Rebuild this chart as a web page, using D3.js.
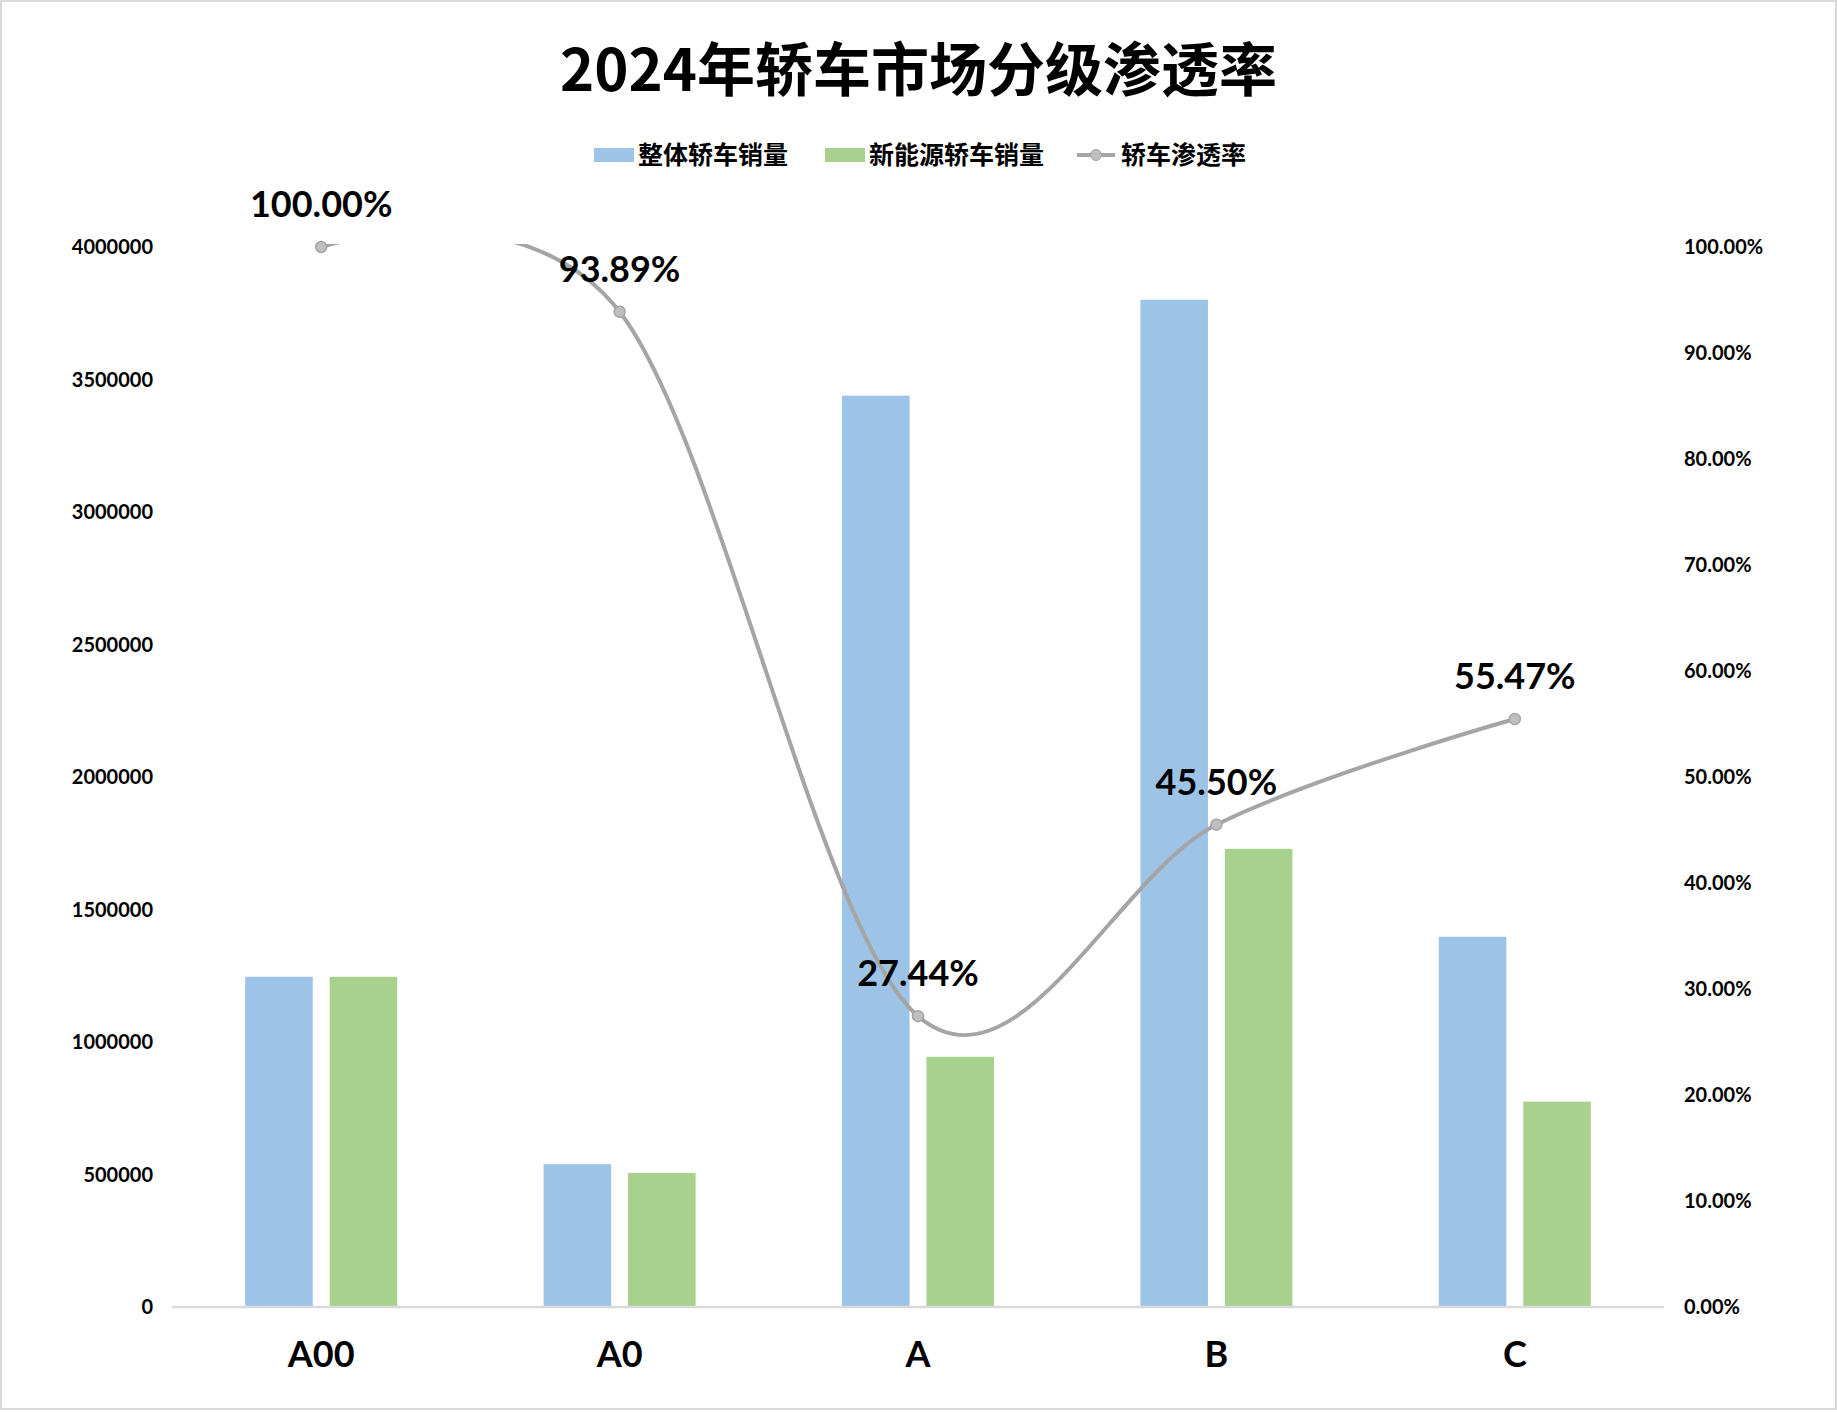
<!DOCTYPE html>
<html>
<head>
<meta charset="utf-8">
<script src="https://cdn.jsdelivr.net/npm/d3@7"></script>
<style>
	body { margin: 0; background: #fff; }
	svg text { font-family: Lato, "Noto Sans CJK SC", sans-serif; font-weight: bold; fill: #000; }
	.cjk { font-family: "Noto Sans CJK SC", sans-serif; }
</style>
</head>
<body>
<div id="chart"></div>
<script>
const categories = ['A00', 'A0', 'A', 'B', 'C'];
const seriesNames = ['整体轿车销量', '新能源轿车销量'];
const totalSales = [1246000, 539000, 3439000, 3801000, 1397000];
const nevSales = [1246000, 506000, 944000, 1729000, 775000];
const penetration = [1.0, 0.9389, 0.2744, 0.4550, 0.5547];
const leftTicks = [0, 500000, 1000000, 1500000, 2000000, 2500000, 3000000, 3500000, 4000000];
const rightTicks = [0, 0.1, 0.2, 0.3, 0.4, 0.5, 0.6, 0.7, 0.8, 0.9, 1.0];

const colours = ['#9DC3E6', '#A9D18E'];
const lineColour = '#A5A5A5';

const W = 1837, H = 1412;
const margin = {top: 247, right: 173, bottom: 105, left: 172};
const width = W - margin.left - margin.right;
const height = H - margin.top - margin.bottom;

const svg = d3.select('#chart').append('svg')
	.attr('width', W)
	.attr('height', H);

// outer frame
svg.append('rect')
	.attr('x', 1).attr('y', 1)
	.attr('width', W - 2).attr('height', H - 4)
	.attr('fill', 'none')
	.attr('stroke', '#D9D9D9')
	.attr('stroke-width', 2);

// title
svg.append('text')
	.attr('class', 'cjk')
	.attr('x', W / 2)
	.attr('y', 91)
	.attr('text-anchor', 'middle')
	.style('font-size', '58px')
	.text('2024年轿车市场分级渗透率');

const g = svg.append('g')
	.attr('transform', `translate(${margin.left},${margin.top})`);

// scales
const x = d3.scaleBand().domain(categories).range([0, width]);
const x1 = d3.scaleBand().domain(seriesNames)
	.range([x.bandwidth() / 2 - 76, x.bandwidth() / 2 + 76])
	.paddingInner(0.2);
const y = d3.scaleLinear().domain([0, 4000000]).range([height, 0]);
const y2 = d3.scaleLinear().domain([0, 1]).range([height, 0]);

// left axis labels
g.append('g')
	.selectAll('text')
	.data(leftTicks)
	.enter().append('text')
		.attr('x', -19)
		.attr('y', d => y(d))
		.attr('dy', '0.35em')
		.attr('text-anchor', 'end')
		.style('font-size', '20px')
		.text(d => d);

// right axis labels
g.append('g')
	.selectAll('text')
	.data(rightTicks)
	.enter().append('text')
		.attr('x', width + 20)
		.attr('y', d => y2(d))
		.attr('dy', '0.35em')
		.attr('text-anchor', 'start')
		.style('font-size', '20px')
		.text(d => (d * 100).toFixed(2) + '%');

// bars
const barData = categories.map((c, i) => ({cat: c, values: [totalSales[i], nevSales[i]]}));
const groups = g.append('g')
	.selectAll('g')
	.data(barData)
	.enter().append('g')
		.attr('transform', d => `translate(${x(d.cat)},0)`);

groups.selectAll('rect')
	.data(d => d.values.map((v, j) => ({name: seriesNames[j], value: v, idx: j})))
	.enter().append('rect')
		.attr('x', d => x1(d.name))
		.attr('width', x1.bandwidth())
		.attr('y', d => y(d.value))
		.attr('height', d => height - y(d.value))
		.attr('fill', d => colours[d.idx]);

// baseline
g.append('line')
	.attr('x1', 0).attr('x2', width)
	.attr('y1', height).attr('y2', height)
	.attr('stroke', '#D9D9D9')
	.attr('stroke-width', 2.5);

// category labels
g.append('g')
	.selectAll('text')
	.data(categories)
	.enter().append('text')
		.attr('x', d => x(d) + x.bandwidth() / 2)
		.attr('y', height + 60)
		.attr('text-anchor', 'middle')
		.style('font-size', '36px')
		.text(d => d);

// clip for smoothed line (plot area, a touch of room for the stroke)
svg.append('defs').append('clipPath')
	.attr('id', 'plotClip')
	.append('rect')
		.attr('x', -margin.left).attr('y', -3)
		.attr('width', W).attr('height', height + 3);

const linePts = categories.map((c, i) => [x(c) + x.bandwidth() / 2, y2(penetration[i])]);

g.append('path')
	.attr('clip-path', 'url(#plotClip)')
	.attr('d', d3.line().curve(d3.curveCardinal.tension(0))(linePts))
	.attr('fill', 'none')
	.attr('stroke', lineColour)
	.attr('stroke-width', 4)
	.attr('stroke-linecap', 'round');

g.append('g')
	.selectAll('circle')
	.data(linePts)
	.enter().append('circle')
		.attr('cx', d => d[0])
		.attr('cy', d => d[1])
		.attr('r', 5.5)
		.attr('fill', '#BFBFBF')
		.attr('stroke', lineColour)
		.attr('stroke-width', 1.5);

// point labels
g.append('g')
	.selectAll('text')
	.data(linePts)
	.enter().append('text')
		.attr('x', d => d[0])
		.attr('y', d => d[1] - 30)
		.attr('text-anchor', 'middle')
		.style('font-size', '36px')
		.text((d, i) => (penetration[i] * 100).toFixed(2) + '%');

// legend
const legendItems = [
	{label: seriesNames[0], type: 'bar', colour: colours[0], x: 594},
	{label: seriesNames[1], type: 'bar', colour: colours[1], x: 825},
	{label: '轿车渗透率', type: 'line', colour: lineColour, x: 1077}
];
const legend = svg.append('g').attr('class', 'legend');
const lg = legend.selectAll('g')
	.data(legendItems)
	.enter().append('g')
		.attr('transform', d => `translate(${d.x},155)`);

lg.filter(d => d.type === 'bar').append('rect')
	.attr('x', 0).attr('y', -7)
	.attr('width', 40).attr('height', 14)
	.attr('fill', d => d.colour);

lg.filter(d => d.type === 'line').append('line')
	.attr('x1', 0).attr('x2', 38)
	.attr('y1', 0).attr('y2', 0)
	.attr('stroke', lineColour)
	.attr('stroke-width', 4);
lg.filter(d => d.type === 'line').append('circle')
	.attr('cx', 19).attr('cy', 0).attr('r', 5.5)
	.attr('fill', '#BFBFBF')
	.attr('stroke', lineColour);

lg.append('text')
	.attr('class', 'cjk')
	.attr('x', 44)
	.attr('y', 0)
	.attr('dy', '0.36em')
	.style('font-size', '25px')
	.text(d => d.label);
</script>
</body>
</html>
